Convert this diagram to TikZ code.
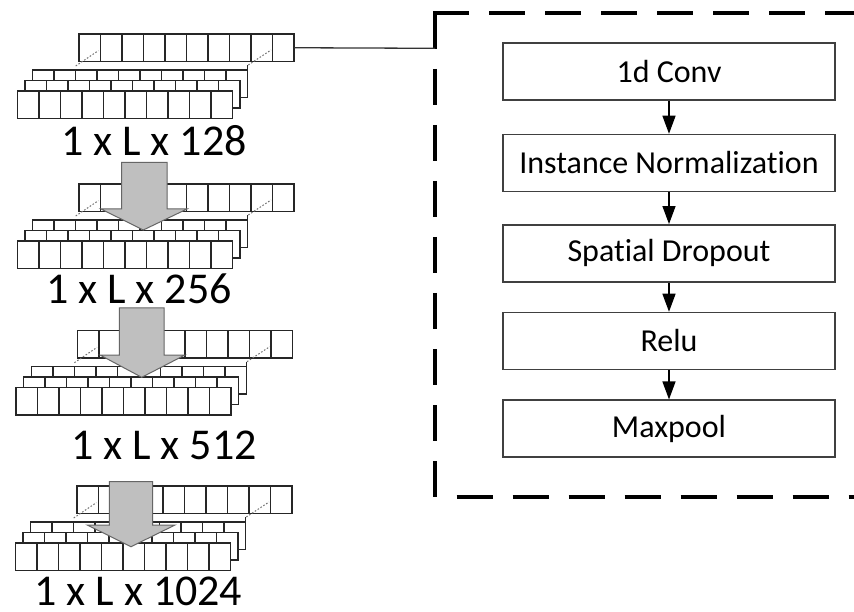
\documentclass[tikz,border=0pt]{standalone}
\usepackage{fontspec}
\setmainfont{Carlito}[Ligatures=NoCommon]
\usetikzlibrary{arrows.meta,calc}
\tikzset{
  cellbox/.style={draw=black!85, line width=1.5pt, fill=white, minimum width=215pt,
    minimum height=27.5pt, inner sep=0pt, outer sep=0pt, anchor=north west},
  cellline/.style={draw=black!85, line width=1.5pt},
  dotline/.style={draw=black!55, line width=1pt, dash pattern=on 1.6pt off 1.8pt},
  grayarrow/.style={fill=black!25, draw=black!60, line width=1pt, line join=miter},
  dimlabel/.style={font=\fontsize{44}{48}\selectfont, anchor=base, inner sep=0pt},
  stepbox/.style={draw=black!75, line width=1.5pt, minimum width=332pt, minimum height=57pt,
    inner sep=0pt, font=\fontsize{32}{36}\selectfont},
  flow/.style={draw=black, line width=1.3pt, -{Triangle[width=13pt,length=18pt]}},
  dbox/.style={draw=black, line width=3.5pt, dash pattern=on 36pt off 20pt},
  conn/.style={draw=black!80, line width=1.3pt}
}
\newcommand\celldiv[1]{%
  \foreach \i in {1,...,9}{\draw[cellline] ($(#1.north west)+(\i*21.5,0)$) -- ($(#1.south west)+(\i*21.5,0)$);}}
\newcommand\mkgroup[3]{%
  \node[cellbox] (#1a) at (#2-46.3,#3+36) {};
  \celldiv{#1a}
  \draw[cellline] (#1a.north east) -- ++(0,-5);
  \node[cellbox] (#1b) at (#2-54,#3+46.3) {};
  \celldiv{#1b}
  \node[cellbox] (#1c) at (#2-61.7,#3+57) {};
  \celldiv{#1c}
  \node[cellbox] (#1s) at (#2,#3) {};
  \celldiv{#1s}
  \draw[dotline] (#2-3.3,#3+32) -- (#2+19.3,#3+16.7);
  \draw[dotline] (#2+169.3,#3+31) -- (#2+192,#3+16);
}
\begin{document}
\begin{tikzpicture}[x=1pt,y=-1pt]
\useasboundingbox (0,0) rectangle (854,612);
\fill[white] (0,0) rectangle (854,612);

% stacks
\mkgroup{g1}{79}{34}
\mkgroup{g2}{79}{184}
\mkgroup{g3}{77.7}{330.7}
\mkgroup{g4}{77}{486}

% gray arrows
\draw[grayarrow] (121.7,162.5) -- (167,162.5) -- (167,209) -- (187,209) -- (143.3,230) -- (101,209) -- (121.7,209) -- cycle;
\draw[grayarrow] (119.3,308) -- (164,308) -- (164,355) -- (185,355) -- (141.7,377.3) -- (100,355) -- (119.3,355) -- cycle;
\draw[grayarrow] (109.3,481.7) -- (152.7,481.7) -- (152.7,525) -- (175,525) -- (131,546.7) -- (87.3,525) -- (109.3,525) -- cycle;

% labels
\node[dimlabel] (l1) at (154,156) {1 x L x 128};
\node[dimlabel] (l2) at (139,303.3) {1 x L x 256};
\node[dimlabel] (l3) at (164,459.7) {1 x L x 512};
\node[dimlabel] (l4) at (138.3,605.5) {1 x L x 1024};

% dashed frame
\draw[dbox] (433.25,13) -- (862,13);
\draw[dbox] (435,13) -- (435,499);
\draw[dbox] (456.7,497) -- (862,497);
\coordinate (dbl) at (435,48.3);
\draw[conn] (g1s.east) -- (dbl);

% right column
\node[stepbox] (b1) at (669,71.7) {1d Conv};
\node[stepbox] (b2) at (669,163) {Instance Normalization};
\node[stepbox] (b3) at (669,253.3) {Spatial Dropout};
\node[stepbox] (b4) at (669,341) {Relu};
\node[stepbox] (b5) at (669,428.7) {Maxpool};
\draw[flow] (b1) -- (b2);
\draw[flow] (b2) -- (b3);
\draw[flow] (b3) -- (b4);
\draw[flow] (b4) -- (b5);
\end{tikzpicture}
\end{document}
